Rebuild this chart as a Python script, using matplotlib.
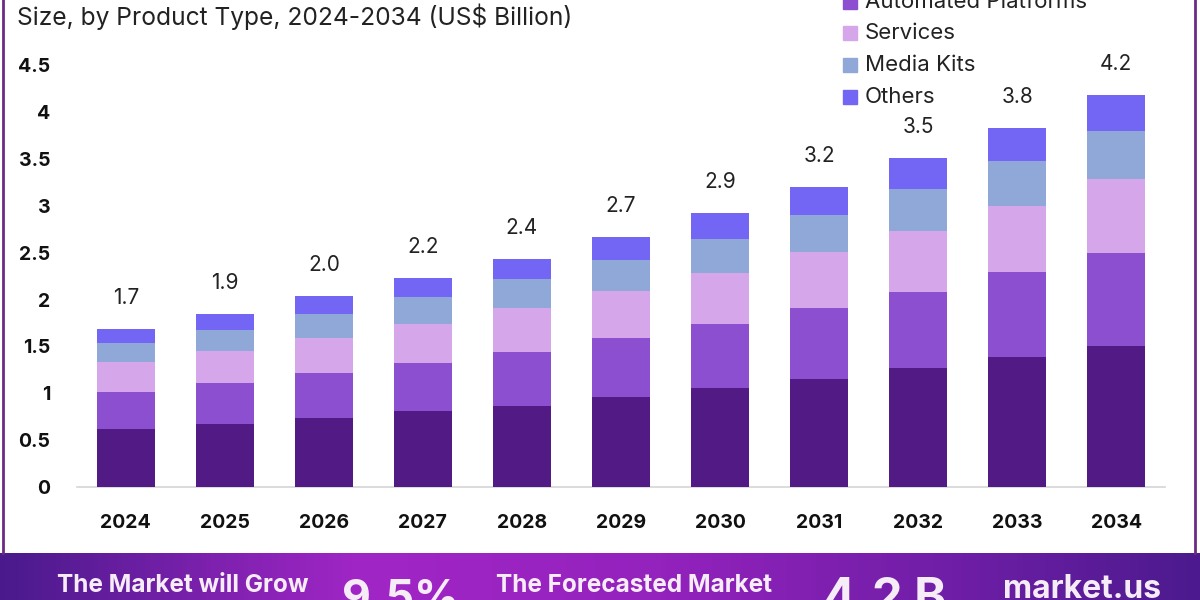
import numpy as np
import matplotlib.pyplot as plt
from matplotlib.patches import Rectangle
from matplotlib.lines import Line2D
from matplotlib.colors import LinearSegmentedColormap

# =====================================================
# DATA
# =====================================================

years = ["2024", "2025", "2026", "2027", "2028", "2029",
         "2030", "2031", "2032", "2033", "2034"]

software = [0.62, 0.67, 0.74, 0.81, 0.87, 0.96, 1.06, 1.15, 1.27, 1.39, 1.51]
automated = [0.39, 0.44, 0.48, 0.51, 0.57, 0.63, 0.68, 0.76, 0.81, 0.90, 0.99]
services = [0.32, 0.34, 0.37, 0.42, 0.47, 0.50, 0.54, 0.60, 0.65, 0.71, 0.78]
media_kits = [0.21, 0.23, 0.26, 0.29, 0.31, 0.33, 0.37, 0.39, 0.45, 0.48, 0.52]
others = [0.15, 0.17, 0.19, 0.20, 0.21, 0.25, 0.27, 0.30, 0.33, 0.35, 0.38]

totals = ["1.7", "1.9", "2.0", "2.2", "2.4", "2.7",
          "2.9", "3.2", "3.5", "3.8", "4.2"]

series_names = ["Software", "Automated Platforms", "Services", "Media Kits", "Others"]
series_values = [software, automated, services, media_kits, others]
colors = ["#521a85", "#8b4fcf", "#d6a6ea", "#8fa8d8", "#7466f5"]

y_ticks = [0, 0.5, 1, 1.5, 2, 2.5, 3, 3.5, 4, 4.5]
y_tick_labels = ["0", "0.5", "1", "1.5", "2", "2.5", "3", "3.5", "4", "4.5"]

FONT = "Inter"

# =====================================================
# FIGURE
# =====================================================

plt.rcParams["font.family"] = [FONT, "DejaVu Sans"]

fig = plt.figure(figsize=(12, 6), dpi=100)
fig.patch.set_facecolor("white")

ax = fig.add_axes([0.064, 0.188, 0.907, 0.7037])

x = np.arange(len(years))
bottom = np.zeros(len(years))
for name, vals, col in zip(series_names, series_values, colors):
    ax.bar(x, vals, 0.58, bottom=bottom, color=col, label=name, zorder=3)
    bottom += np.array(vals)

for xi, top, lab in zip(x, bottom, totals):
    ax.annotate(lab, (xi, top), xytext=(0, 15), textcoords="offset points",
                ha="center", va="bottom", fontsize=15, color="#222222",
                annotation_clip=False)

ax.set_xlim(-0.495, len(years) - 0.505)
ax.set_ylim(0, 4.5)
ax.set_xticks(x)
ax.set_xticklabels(years, fontsize=14, fontweight="bold", color="#111111")
ax.set_yticks(y_ticks)
ax.set_yticklabels(y_tick_labels, fontsize=14, fontweight="bold", color="#111111")
ax.tick_params(length=0)
ax.tick_params(axis="x", pad=19)
ax.tick_params(axis="y", pad=19)

for side in ["top", "right", "left"]:
    ax.spines[side].set_visible(False)
ax.spines["bottom"].set_color("#d5d5d5")
ax.spines["bottom"].set_linewidth(1.2)

# =====================================================
# TITLE & LEGEND
# =====================================================

fig.text(17 / 1200, 1 - 17 / 600, "Size, by Product Type, 2024-2034 (US$ Billion)",
         ha="left", va="center", fontsize=17.7, color="#222222")

legend_rows = [(series_names[1], colors[1], 2),
               (series_names[2], colors[2], 33),
               (series_names[3], colors[3], 65),
               (series_names[4], colors[4], 97)]
for name, col, ypx in legend_rows:
    fig.add_artist(Rectangle((843 / 1200, 1 - (ypx + 7) / 600), 14 / 1200, 14 / 600,
                             transform=fig.transFigure, color=col))
    fig.text(865 / 1200, 1 - ypx / 600, name, ha="left", va="center",
             fontsize=16, color="#222222")

# =====================================================
# FRAME
# =====================================================

fig.add_artist(Line2D([3 / 1200, 3 / 1200], [1, 47 / 600], transform=fig.transFigure,
                      color="#6b2a85", linewidth=2))
fig.add_artist(Line2D([1195 / 1200, 1195 / 1200], [1, 47 / 600], transform=fig.transFigure,
                      color="#6b2a85", linewidth=2))

# =====================================================
# BOTTOM BANNER
# =====================================================

banner = fig.add_axes([0, 0, 1, 47 / 600])
banner.set_axis_off()
cmap = LinearSegmentedColormap.from_list(
    "banner",
    [(0.0, "#4a1a8c"), (0.3, "#a126c6"), (0.55, "#9422bd"),
     (0.8, "#6e1ea6"), (1.0, "#4c1a8e")])
banner.imshow(np.linspace(0, 1, 256).reshape(1, -1), cmap=cmap, aspect="auto",
              extent=[0, 1, 0, 1])
banner.set_xlim(0, 1)
banner.set_ylim(0, 1)

fig.text(183 / 1200, 1 - 586 / 600, "The Market will Grow", ha="center", va="center",
         fontsize=17.5, fontweight="bold", color="#f6ecf8")
fig.text(400 / 1200, 1 - 600 / 600, "9.5%", ha="center", va="center",
         fontsize=32, fontweight="bold", color="#f6ecf8")
fig.text(634 / 1200, 1 - 586 / 600, "The Forecasted Market", ha="center", va="center",
         fontsize=17.5, fontweight="bold", color="#f6ecf8")
fig.text(885 / 1200, 1 - 600 / 600, "4.2 B", ha="center", va="center",
         fontsize=35, fontweight="bold", color="#f6ecf8")
fig.text(1082 / 1200, 1 - 590 / 600, "market.us", ha="center", va="center",
         fontsize=23, fontweight="bold", color="#f6ecf8")

fig.savefig("out.png", dpi=100)
